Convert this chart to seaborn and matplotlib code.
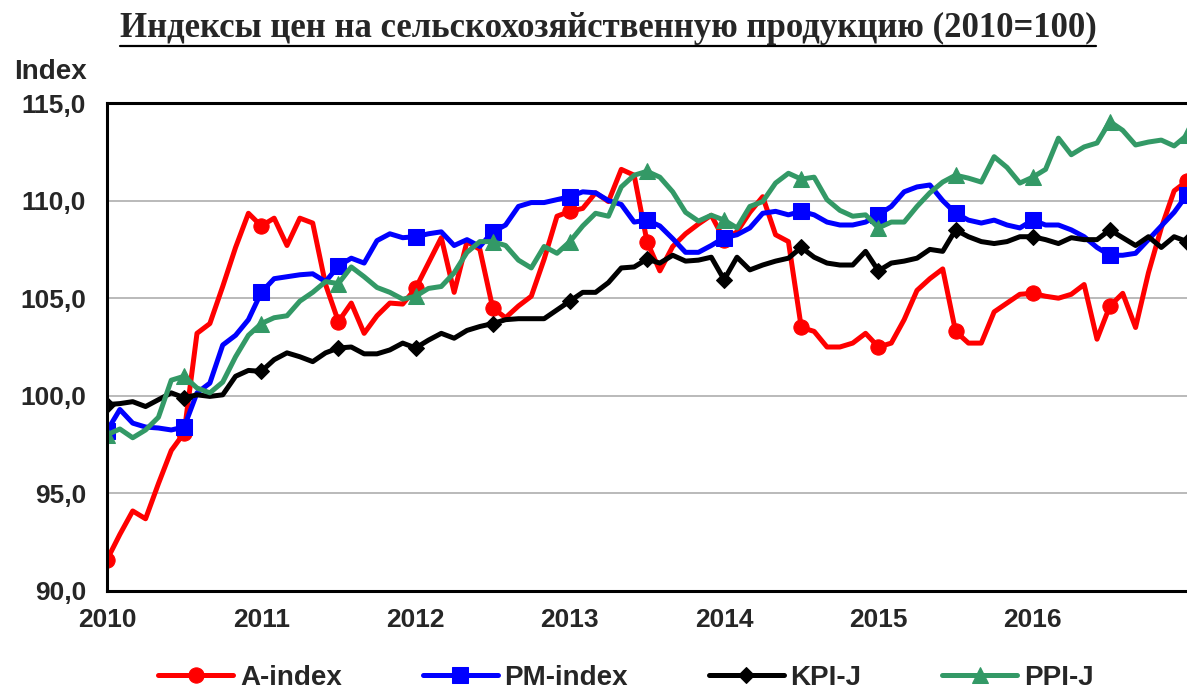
import numpy as np
import pandas as pd
import matplotlib
matplotlib.use("Agg")
import matplotlib.pyplot as plt
import seaborn as sns
from matplotlib.lines import Line2D
from matplotlib.ticker import FuncFormatter, FixedLocator

# ---------------- data (monthly, Jan 2010 .. Jan 2017) ----------------
title = "Индексы цен на сельскохозяйственную продукцию (2010=100)"
y_label = "Index"
series_names = ["A-index", "PM-index", "KPI-J", "PPI-J"]
start_year = 2010
year_labels = ["2010", "2011", "2012", "2013", "2014", "2015", "2016"]

a_index = [91.6, 92.9, 94.1, 93.7, 95.5, 97.2, 98.1, 103.2, 103.7, 105.6, 107.6, 109.35,
           108.7, 109.1, 107.7, 109.1, 108.85, 105.7, 103.8, 104.75, 103.2, 104.1, 104.75, 104.7,
           105.5, 106.8, 108.1, 105.3, 107.9, 107.5, 104.5, 104.0, 104.6, 105.1, 107.0, 109.2,
           109.45, 109.6, 110.4, 109.95, 111.6, 111.3, 107.9, 106.4, 107.65, 108.3, 108.8, 109.25,
           108.0, 108.4, 109.4, 110.2, 108.25, 107.9, 103.5, 103.3, 102.5, 102.5, 102.7, 103.2,
           102.5, 102.7, 103.9, 105.4, 106.0, 106.5, 103.3, 102.7, 102.7, 104.3, 104.75, 105.2,
           105.25, 105.1, 105.0, 105.2, 105.7, 102.9, 104.6, 105.25, 103.5, 106.3, 108.6, 110.5,
           111.0]
pm_index = [98.2, 99.3, 98.6, 98.4, 98.35, 98.25, 98.4, 100.15, 100.65, 102.6, 103.1, 103.9,
            105.3, 106.0, 106.1, 106.2, 106.25, 105.85, 106.65, 107.05, 106.8, 107.95, 108.3, 108.1,
            108.15, 108.3, 108.4, 107.7, 108.0, 107.65, 108.4, 108.75, 109.7, 109.9, 109.9, 110.05,
            110.2, 110.45, 110.4, 110.0, 109.8, 108.9, 109.0, 108.7, 108.05, 107.35, 107.35, 107.7,
            108.1, 108.25, 108.6, 109.35, 109.45, 109.27, 109.45, 109.27, 108.9, 108.75, 108.75, 108.9,
            109.27, 109.7, 110.45, 110.7, 110.8, 110.0, 109.35, 109.0, 108.85, 109.0, 108.75, 108.6,
            109.0, 108.75, 108.75, 108.5, 108.15, 107.6, 107.2, 107.2, 107.3, 108.0, 108.7, 109.4,
            110.3]
kpi_j = [99.55, 99.6, 99.7, 99.45, 99.8, 100.15, 99.9, 100.05, 99.97, 100.05, 101.0, 101.3,
         101.25, 101.85, 102.2, 102.0, 101.75, 102.2, 102.45, 102.5, 102.15, 102.15, 102.35, 102.7,
         102.45, 102.85, 103.2, 102.95, 103.35, 103.55, 103.7, 103.9, 103.95, 103.95, 103.95, 104.4,
         104.85, 105.3, 105.3, 105.8, 106.55, 106.6, 107.0, 106.8, 107.2, 106.9, 106.95, 107.1,
         105.95, 107.1, 106.45, 106.7, 106.9, 107.05, 107.6, 107.1, 106.8, 106.7, 106.7, 107.4,
         106.4, 106.8, 106.9, 107.05, 107.5, 107.4, 108.5, 108.15, 107.9, 107.8, 107.9, 108.15,
         108.15, 108.0, 107.8, 108.1, 108.0, 108.0, 108.5, 108.1, 107.7, 108.15, 107.6, 108.15,
         107.9]
ppi_j = [98.0, 98.3, 97.85, 98.25, 98.9, 100.8, 101.0, 100.4, 100.15, 100.7, 102.0, 103.1,
         103.7, 104.0, 104.1, 104.85, 105.3, 105.85, 105.75, 106.6, 106.1, 105.55, 105.3, 104.95,
         105.1, 105.5, 105.6, 106.3, 107.35, 107.9, 107.9, 107.7, 106.95, 106.55, 107.65, 107.3,
         107.9, 108.7, 109.35, 109.2, 110.7, 111.3, 111.5, 111.2, 110.45, 109.4, 108.95, 109.25,
         109.0, 108.6, 109.7, 109.95, 110.9, 111.4, 111.1, 111.2, 110.05, 109.5, 109.2, 109.27,
         108.6, 108.9, 108.9, 109.7, 110.4, 110.95, 111.3, 111.15, 110.95, 112.25, 111.7, 110.9,
         111.2, 111.6, 113.2, 112.35, 112.75, 112.95, 114.05, 113.6, 112.85, 113.0, 113.1, 112.8,
         113.35]

values = [a_index, pm_index, kpi_j, ppi_j]
colors = ["#FF0000", "#0000FF", "#000000", "#339966"]
markers = ["o", "s", "D", "^"]
msizes = [11, 11, 8, 11]

dates = pd.date_range(f"{start_year}-01-01", periods=len(a_index), freq="MS")
xdec = dates.year + (dates.month - 1) / 12.0

df = pd.concat([pd.DataFrame({"x": xdec, "value": v, "series": n})
                for n, v in zip(series_names, values)], ignore_index=True)

# ---------------- style ----------------
sns.set_theme(style="white")
plt.rcParams["font.family"] = ["Liberation Sans", "DejaVu Sans"]

W, H = 1187, 691
fig = plt.figure(figsize=(W / 100, H / 100), dpi=100)
ax_left, ax_right, ax_top, ax_bottom = 107, 1187, 103, 591
ax = fig.add_axes([ax_left / W, 1 - ax_bottom / H, (ax_right - ax_left) / W, (ax_bottom - ax_top) / H])

for n, c, m, ms in zip(series_names, colors, markers, msizes):
    sns.lineplot(data=df[df["series"] == n], x="x", y="value", ax=ax, color=c,
                 linewidth=3.6, marker=m, markersize=ms, markevery=6,
                 markeredgecolor=c, markerfacecolor=c, label=n, legend=False,
                 errorbar=None, solid_joinstyle="round")

ax.set_xlim(start_year, start_year + 7)
ax.set_ylim(90, 115)
ax.set_xlabel("")
ax.set_ylabel("")

# y ticks
ax.yaxis.set_major_locator(FixedLocator([90, 95, 100, 105, 110, 115]))
ax.yaxis.set_major_formatter(FuncFormatter(lambda v, p: f"{v:.1f}".replace(".", ",")))
ax.grid(axis="y", color="#b4b4b4", linewidth=1.3)
ax.grid(axis="x", visible=False)

# x ticks every 4 months, labels at years
xt = start_year + np.arange(0, 85, 4) / 12.0
ax.set_xticks(xt)
lab = []
for i in range(0, 85, 4):
    lab.append(str(start_year + i // 12) if i % 12 == 0 and i // 12 < len(year_labels) else "")
ax.set_xticklabels(lab)

ax.tick_params(axis="both", which="major", direction="out", length=7, width=1.5,
               color="black", labelsize=19)
ax.tick_params(axis="x", pad=5)
ax.tick_params(axis="y", pad=8)
for t in ax.get_xticklabels() + ax.get_yticklabels():
    t.set_fontweight("bold")

for s in ["left", "top", "bottom"]:
    ax.spines[s].set_visible(True)
    ax.spines[s].set_color("black")
    ax.spines[s].set_linewidth(2.2)
ax.spines["right"].set_visible(False)

# title with underline
ttl = fig.text(608 / W, 1 - 37 / H, title, ha="center", va="baseline",
               fontfamily=["Liberation Serif", "DejaVu Serif"], fontweight="bold", fontsize=25)
fig.text(14 / W, 1 - 79 / H, y_label, ha="left", va="baseline", fontweight="bold", fontsize=20)

# legend
handles, labels = ax.get_legend_handles_labels()
leg = fig.legend(handles, labels, loc="center", bbox_to_anchor=(626 / W, 1 - 678 / H),
                 ncol=4, frameon=False, handlelength=2.7, handletextpad=0.25, numpoints=1,
                 columnspacing=2.9, prop={"weight": "bold", "size": 20})

fig.canvas.draw()
bb = ttl.get_window_extent()
yline = (bb.y0 - 1) / H
fig.add_artist(Line2D([bb.x0 / W, bb.x1 / W], [yline, yline], color="black", linewidth=1.6,
                      transform=fig.transFigure))

fig.savefig("out.png", dpi=100)
